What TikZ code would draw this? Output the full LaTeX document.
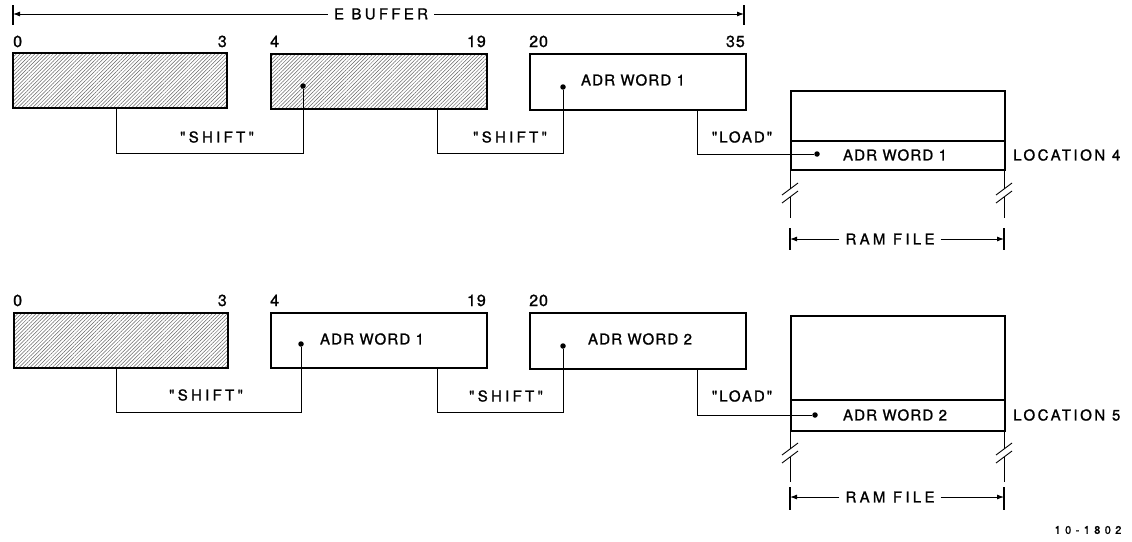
\documentclass[tikz,border=0pt]{standalone}
\usepackage{fontspec}
\newfontfamily\lett[FakeBold=1.2]{TeX Gyre Heros}
\usetikzlibrary{arrows.meta,patterns.meta}
\begin{document}
\begin{tikzpicture}[x=1pt,y=-1pt,
  box/.style={draw, line width=1.8pt, inner sep=0pt, anchor=north west},
  hatch/.style={box, pattern={Lines[angle=45,distance=2.6pt,line width=0.5pt]}, pattern color=black!60},
  ram/.style={draw, line width=1.5pt, inner sep=0pt, anchor=north west},
  wire/.style={line width=0.9pt},
  dotn/.style={circle, fill, inner sep=0pt, minimum size=5.5pt},
  lbl/.style={font={\fontsize{15}{17}\selectfont\lett\addfontfeature{LetterSpace=8}}, inner sep=0pt},
  wlbl/.style={font={\fontsize{15}{17}\selectfont\lett\addfontfeature{LetterSpace=22}}, inner sep=0pt},
  ldlbl/.style={font={\fontsize{15}{17}\selectfont\lett\addfontfeature{LetterSpace=13}}, inner sep=0pt},
  loclbl/.style={font={\fontsize{15}{17}\selectfont\lett\addfontfeature{LetterSpace=17}}, inner sep=0pt, anchor=west},
  num/.style={font={\fontsize{16}{18}\selectfont\lett\addfontfeature{LetterSpace=6}}, inner sep=0pt},
  dimlbl/.style={font={\fontsize{15}{17}\selectfont\lett\addfontfeature{LetterSpace=22}}, inner sep=6pt},
  dimarr/.style={line width=0.9pt, -{Latex[length=7pt,width=5pt]}},
  tick/.style={line width=1.1pt}]
\useasboundingbox (0,0) rectangle (1132,541);

% ---------- E BUFFER ----------
\node[dimlbl] (eb) at (381,14) {E BUFFER};
\coordinate (ebl) at (13,14);
\coordinate (ebr) at (744,14);
\draw[tick] (13,5) -- (13,25);
\draw[tick] (744,5) -- (744,25);
\draw[dimarr] (eb.west) -- (ebl);
\draw[dimarr] (eb.east) -- (ebr);

% ---------- TOP ROW ----------
\node[num, anchor=base west] (t0) at (13,47) {0};
\node[num, anchor=base east] (t3) at (227,47) {3};
\node[num, anchor=base west] (t4) at (270,47) {4};
\node[num, anchor=base east] (t19) at (486,47) {19};
\node[num, anchor=base west] (t20) at (529,47) {20};
\node[num, anchor=base east] (t35) at (745,47) {35};

\node[hatch, minimum width=214pt, minimum height=55pt] (ta) at (13,53) {};
\node[hatch, minimum width=216pt, minimum height=55pt] (tb) at (270,53) {};
\node[box, minimum width=216pt, minimum height=56pt] (tc) at (529,53) {};
\node[lbl] (tct) at (633,80) {ADR WORD 1};

\node[dotn] (td1) at (303,86) {};
\node[dotn] (td2) at (563,87) {};

\coordinate (ts1) at (116,108);
\coordinate (ts2) at (437,108);
\coordinate (ts3) at (697,109);
\draw[wire] (ts1) -- (116,153) -| (td1);
\draw[wire] (ts2) -- (437,153) -| (td2);
\node[wlbl] (tsh1) at (217,137) {"SHIFT"};
\node[wlbl] (tsh2) at (510,137) {"SHIFT"};

% RAM top
\node[ram, minimum width=214pt, minimum height=79pt] (tram) at (790,90) {};
\node[ram, minimum width=214pt, minimum height=29pt] (trow) at (790,140) {};
\node[dotn] (tld) at (817,154) {};
\node[lbl] (trt) at (895,155) {ADR WORD 1};
\draw[wire] (ts3) -- (697,154) -- (tld);
\node[ldlbl] (tload) at (742,137) {"LOAD"};
\node[loclbl] (tloc) at (1013,155) {LOCATION 4};

% breaks top
\foreach \x in {790,1004}{
  \draw[wire] (\x,169) -- (\x,189);
  \draw[wire] (\x,197) -- (\x,218);
  \draw[wire] (\x-8,195) -- (\x+8,183);
  \draw[wire] (\x-8,203) -- (\x+8,191);
  \draw[tick] (\x,228) -- (\x,250);
}
\node[dimlbl] (trf) at (890,239) {RAM FILE};
\coordinate (trfl) at (790,239);
\coordinate (trfr) at (1004,239);
\draw[dimarr] (trf.west) -- (trfl);
\draw[dimarr] (trf.east) -- (trfr);

% ---------- BOTTOM ROW ----------
\node[num, anchor=base west] (b0) at (13,306) {0};
\node[num, anchor=base east] (b3) at (227,306) {3};
\node[num, anchor=base west] (b4) at (270,306) {4};
\node[num, anchor=base east] (b19) at (486,306) {19};
\node[num, anchor=base west] (b20) at (529,306) {20};

\node[hatch, minimum width=214pt, minimum height=55pt] (ba) at (13,312) {};
\node[box, minimum width=216pt, minimum height=55pt] (bb) at (270,312) {};
\node[box, minimum width=216pt, minimum height=56pt] (bc) at (529,312) {};
\node[lbl] (bbt) at (372,339) {ADR WORD 1};
\node[lbl] (bct) at (640,339) {ADR WORD 2};

\node[dotn] (bd1) at (301,344) {};
\node[dotn] (bd2) at (563,346) {};

\coordinate (bs1) at (116,367);
\coordinate (bs2) at (437,367);
\coordinate (bs3) at (697,368);
\draw[wire] (bs1) -- (116,412) -| (bd1);
\draw[wire] (bs2) -- (437,412) -| (bd2);
\node[wlbl] (bsh1) at (206,395) {"SHIFT"};
\node[wlbl] (bsh2) at (506,396) {"SHIFT"};

% RAM bottom
\node[ram, minimum width=214pt, minimum height=115pt] (bram) at (790,315) {};
\node[ram, minimum width=214pt, minimum height=31pt] (brow) at (790,399) {};
\node[dotn] (bld) at (815,415) {};
\node[lbl] (brt) at (895,415) {ADR WORD 2};
\draw[wire] (bs3) -- (697,415) -- (bld);
\node[ldlbl] (bload) at (742,396) {"LOAD"};
\node[loclbl] (bloc) at (1013,415) {LOCATION 5};

\foreach \x in {790,1004}{
  \draw[wire] (\x,430) -- (\x,449);
  \draw[wire] (\x,457) -- (\x,482);
  \draw[wire] (\x-8,455) -- (\x+8,443);
  \draw[wire] (\x-8,463) -- (\x+8,451);
  \draw[tick] (\x,487) -- (\x,510);
}
\node[dimlbl] (brf) at (890,497) {RAM FILE};
\coordinate (brfl) at (790,497);
\coordinate (brfr) at (1004,497);
\draw[dimarr] (brf.west) -- (brfl);
\draw[dimarr] (brf.east) -- (brfr);

\node[font={\fontsize{11}{13}\selectfont\lett\addfontfeature{LetterSpace=40}}, inner sep=0pt] (code) at (1088,530) {10-1802};
\end{tikzpicture}
\end{document}
